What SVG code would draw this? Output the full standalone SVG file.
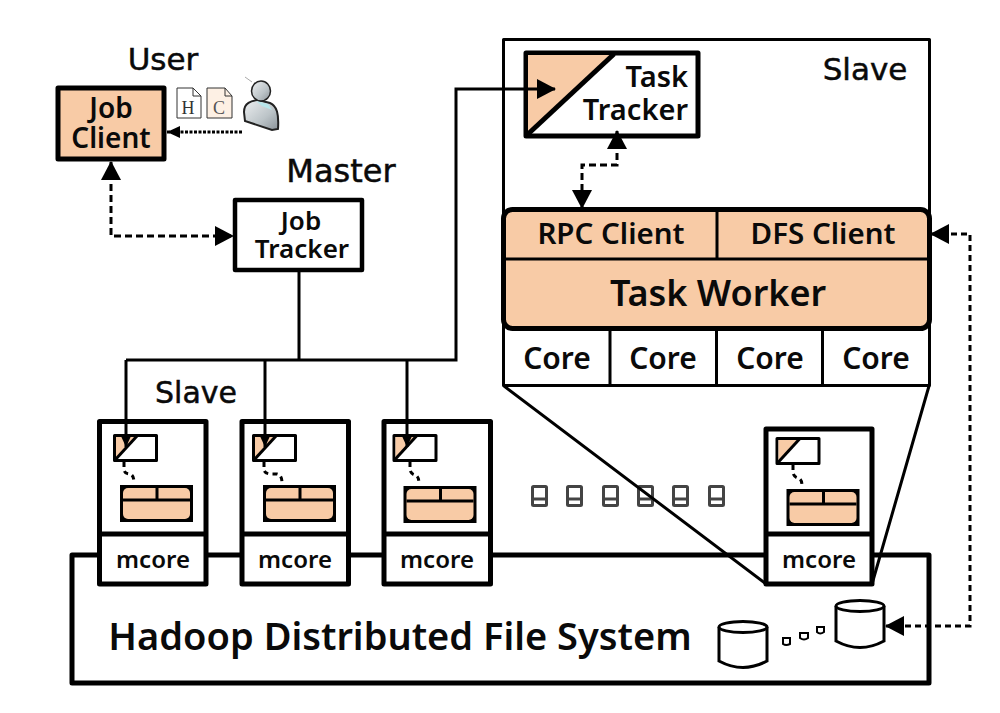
<svg xmlns="http://www.w3.org/2000/svg" width="1000" height="713" viewBox="0 0 1000 713">
<style>
.b{fill:#fff;stroke:#000;stroke-linejoin:round}
.o{fill:#f8cba6}
.t{font-family:"Noto Sans","Open Sans",sans-serif;font-weight:600;fill:#0a0a0a;text-anchor:middle}
.h{font-family:"DejaVu Sans",sans-serif;fill:#0a0a0a;stroke:#0a0a0a;stroke-width:.5;text-anchor:middle}
.s{fill:none;stroke:#000;stroke-width:3}
.d{fill:none;stroke:#000;stroke-width:3;stroke-dasharray:7 4}
.q{fill:none;stroke:#000;stroke-width:3;stroke-dasharray:5 4}
.c{fill:#fff;stroke:#000;stroke-width:3}
</style>
<defs>
<marker id="a" markerUnits="userSpaceOnUse" markerWidth="20" markerHeight="20" refX="18" refY="10" orient="auto-start-reverse"><path d="M0 0L19 10L0 20Z" fill="#000"/></marker>
<marker id="a2" markerUnits="userSpaceOnUse" markerWidth="14" markerHeight="14" refX="13" refY="7" orient="auto"><path d="M0 1L13 7L0 13Z" fill="#000"/></marker>
<linearGradient id="g" x1="0" y1="0" x2="1" y2="1"><stop offset="0" stop-color="#eef0f1"/><stop offset=".6" stop-color="#bcc4c8"/><stop offset="1" stop-color="#8b9399"/></linearGradient>
<g id="mt">
<rect class="b" x="1.500" y="1.500" width="42" height="25" stroke-width="3"/>
<path class="o" d="M3 25V3H23Z"/>
<path d="M2 26L24 2" stroke="#000" stroke-width="3"/>
</g>
<g id="mw">
<rect width="73" height="37" fill="#000"/>
<rect x="3" y="3" width="67" height="31" rx="5" class="o"/>
<path d="M3 15H70M37 3V15" stroke="#000" stroke-width="3" fill="none"/>
</g>
<g id="pc"><rect x="1.500" y="1.500" width="14" height="19" rx="1" fill="#fff" stroke="#444" stroke-width="3"/><path d="M1.500 14H15.500" stroke="#444" stroke-width="3"/></g>
</defs>

<rect width="1000" height="713" fill="#fff"/>

<g id="hdfs">
<rect class="b" x="72" y="555" width="857" height="128" stroke-width="5"/>
<text class="t" x="400" y="650" font-size="38">Hadoop Distributed File System</text>
<path class="c" d="M719 627V661Q743 674 767 661V627"/><ellipse class="c" cx="743" cy="627" rx="24" ry="5.500"/>
<path class="c" d="M836 606V641Q860 654 884 641V606"/><ellipse class="c" cx="860" cy="606" rx="24" ry="5.500"/>
<path d="M783 638H790V644Q786 646 783 644ZM800 633H808V638Q804 641 800 638ZM817 627H824V632Q820 635 817 632Z" fill="#fff" stroke="#000" stroke-width="2"/>
</g>

<g id="pcs">
<use href="#pc" x="531" y="485"/><use href="#pc" x="566" y="485"/><use href="#pc" x="602" y="485"/><use href="#pc" x="637" y="485"/><use href="#pc" x="672" y="485"/><use href="#pc" x="708" y="485"/>
</g>

<g id="slave-main">
<rect class="b" x="503.500" y="39.500" width="426" height="346" stroke-width="3"/>
<path d="M610 329V385M716.500 329V385M822.500 329V385" stroke="#000" stroke-width="3"/>
<text class="t" x="557" y="369" font-size="30">Core</text>
<text class="t" x="663" y="369" font-size="30">Core</text>
<text class="t" x="770" y="369" font-size="30">Core</text>
<text class="t" x="876" y="369" font-size="30">Core</text>
<text class="h" x="865" y="80" font-size="31">Slave</text>
</g>

<g id="task-worker">
<rect class="o" x="503.500" y="209.500" width="426" height="119" rx="9" stroke="#000" stroke-width="5"/>
<path d="M503 259H929M717 209V259" stroke="#000" stroke-width="3"/>
<text class="t" x="611" y="244" font-size="29.500">RPC Client</text>
<text class="t" x="823" y="244" font-size="29.500">DFS Client</text>
<text class="t" x="718" y="306" font-size="36">Task Worker</text>
</g>

<g id="task-tracker">
<rect class="b" x="526" y="53" width="172" height="83" stroke-width="5"/>
<path class="o" d="M528 134V55H612Z"/>
<path d="M527 135L614 54" stroke="#000" stroke-width="5"/>
<text class="t" font-size="29" style="text-anchor:end"><tspan x="688" y="87">Task</tspan><tspan x="688" y="120">Tracker</tspan></text>
</g>

<g id="job-client">
<rect class="o" x="58" y="88" width="106" height="71" stroke="#000" stroke-width="5" stroke-linejoin="round"/>
<text class="t" font-size="28"><tspan x="111" y="118">Job</tspan><tspan x="111" y="148">Client</tspan></text>
</g>

<g id="job-tracker">
<rect class="b" x="235" y="200" width="127" height="70" stroke-width="4.500"/>
<text class="t" font-size="26"><tspan x="301" y="230">Job</tspan><tspan x="302" y="258">Tracker</tspan></text>
</g>

<g id="user">
<text class="h" x="163" y="70" font-size="31">User</text>
<path d="M177 88H193L201 96V118H177Z" fill="#fff" stroke="#333"/><path d="M193 88V96H201" fill="none" stroke="#333"/>
<text x="188" y="114" font-family="'Liberation Serif',serif" font-size="18" text-anchor="middle" fill="#333">H</text>
<path d="M207 88H225L232 96V118H207Z" fill="#fdf0e4" stroke="#333"/><path d="M225 88V96H232" fill="none" stroke="#333"/>
<text x="219" y="114" font-family="'Liberation Serif',serif" font-size="18" text-anchor="middle" fill="#555">C</text>
<path d="M245 77L252 82" stroke="#aaa"/>
<path d="M244 112C244 102 252 101 258 100L270 103C277 106 279 114 278 129L272 130L245 121Z" fill="url(#g)" stroke="#222" stroke-width="2"/>
<path d="M256 101L268 104L272 110L262 106Z" fill="#b8e6ea"/>
<ellipse cx="261" cy="91" rx="9.500" ry="10" fill="url(#g)" stroke="#222" stroke-width="1.500"/>
</g>

<g id="master-label"><text class="h" x="341" y="182" font-size="32">Master</text></g>
<g id="slave-label"><text class="h" x="196" y="403" font-size="30">Slave</text></g>

<g id="mcore-1">
<rect class="b" x="99.500" y="421.500" width="106.500" height="162.500" stroke-width="5"/>
<path d="M99 534H206" stroke="#000" stroke-width="5"/>
<use href="#mt" x="113" y="434"/><use href="#mw" x="120" y="485"/>
<path class="q" d="M124 462V470Q125 474 130 474Q134 475 134 483"/>
<text class="t" x="153" y="568" font-size="24">mcore</text>
</g>
<g id="mcore-2">
<rect class="b" x="242" y="421.500" width="106.500" height="162.500" stroke-width="5"/>
<path d="M242 534H348" stroke="#000" stroke-width="5"/>
<use href="#mt" x="252" y="434"/><use href="#mw" x="263" y="485"/>
<path class="q" d="M264 462V470Q265 474 272 474H277Q282 475 282 483"/>
<text class="t" x="295" y="568" font-size="24">mcore</text>
</g>
<g id="mcore-3">
<rect class="b" x="384" y="421.500" width="106.500" height="162.500" stroke-width="5"/>
<path d="M384 534H490" stroke="#000" stroke-width="5"/>
<use href="#mt" x="392.500" y="434"/><use href="#mw" x="403.500" y="486"/>
<path class="q" d="M410 462V470Q411 474 415 475Q419 476 419 484"/>
<text class="t" x="437" y="568" font-size="24">mcore</text>
</g>
<g id="mcore-4">
<rect class="b" x="766" y="429" width="106" height="155" stroke-width="5"/>
<path d="M766 534H872" stroke="#000" stroke-width="5"/>
<use href="#mt" x="775.500" y="437"/><use href="#mw" x="786.500" y="489"/>
<path class="q" d="M793 465V473Q794 477 798 478Q802 479 802 486"/>
<text class="t" x="819" y="568" font-size="24">mcore</text>
</g>

<g id="connectors">
<path class="s" d="M299 271V360M126 360H456V89H553"/>
<path d="M553 89H555" class="s" marker-end="url(#a)"/>
<path class="s" d="M126 360V447" marker-end="url(#a2)"/>
<path class="s" d="M265 360V447" marker-end="url(#a2)"/>
<path class="s" d="M407 360V447" marker-end="url(#a2)"/>
<path class="d" d="M111 162V236H233" marker-start="url(#a)" marker-end="url(#a)"/>
<path d="M242 132H167" fill="none" stroke="#000" stroke-width="3" stroke-dasharray="3 1.500" marker-end="url(#a2)"/>
<path class="d" d="M617 131V165H582V208" marker-start="url(#a)" marker-end="url(#a)"/>
<path d="M931 234H970V626H886" fill="none" stroke="#000" stroke-width="3" stroke-dasharray="6 4" marker-start="url(#a)" marker-end="url(#a)"/>
<path class="s" d="M504 386L766 584M929 386L872 584"/>
</g>
</svg>
